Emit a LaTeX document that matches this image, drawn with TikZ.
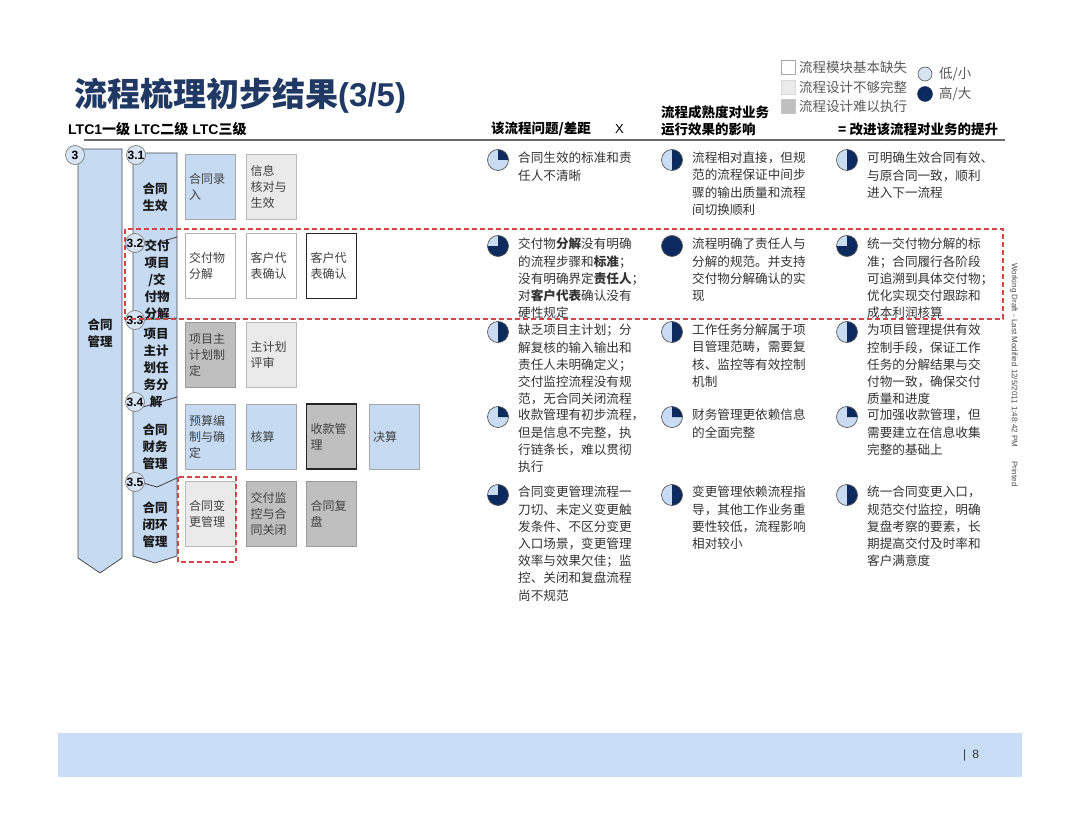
\documentclass[tikz,border=0pt]{standalone}
\usepackage{fontspec}
\setmainfont{Noto Sans CJK SC}
\newfontfamily\arial{Liberation Sans}
\definecolor{navy}{HTML}{1F3864}
\definecolor{piedark}{HTML}{0C2A5E}
\definecolor{pielight}{HTML}{C9DCF3}
\definecolor{colblue}{HTML}{C6DAF2}
\definecolor{boxblue}{HTML}{C6DAF2}
\definecolor{boxlgray}{HTML}{EAEAEA}
\definecolor{boxmgray}{HTML}{BFBFBF}
\definecolor{dashred}{HTML}{D64545}
\definecolor{footblue}{HTML}{C9DDF6}
\definecolor{txtgray}{HTML}{404040}
\definecolor{circfill}{HTML}{D6E4F4}
\begin{document}
\begin{tikzpicture}[x=1pt,y=-1pt,
  procbox/.style={minimum width=50pt, minimum height=65pt, inner sep=4pt, text width=42pt,
    align=left, font=\fontsize{12}{16}\selectfont, text=txtgray, line width=0.8pt},
  bbox/.style={procbox, fill=boxblue, draw=gray!70},
  lbox/.style={procbox, fill=boxlgray, draw=gray!55},
  wbox/.style={procbox, fill=white, draw=gray!60},
  mbox/.style={procbox, fill=boxmgray, draw=gray!80},
  strongbox/.style={draw=black!85, line width=1.1pt},
  colshape/.style={fill=colblue, draw=black!70, line width=0.8pt},
  sepline/.style={draw=black!75, line width=0.8pt},
  numcirc/.style={circle, fill=circfill, draw=gray, line width=0.7pt, minimum size=19pt, inner sep=0pt,
    font=\arial\bfseries\fontsize{12}{12}\selectfont},
  lvlabel/.style={align=center, font=\bfseries\fontsize{12.5}{17}\selectfont, text=black!90, inner sep=0pt},
  desc/.style={anchor=north west, align=left, inner sep=0pt, font=\fontsize{12.6}{17.2}\selectfont, text=black!80},
  hdr/.style={anchor=west, inner sep=0pt, font=\bfseries\fontsize{13.5}{16}\selectfont, text=black},
  legtxt/.style={anchor=west, inner sep=0pt, font=\fontsize{13.5}{15}\selectfont, text=black!65},
  reddash/.style={draw=dashred, line width=1.6pt, dash pattern=on 5pt off 3pt},
  pieedge/.style={draw=gray!70!black, line width=0.7pt},
  pq/.pic={\fill[pielight] (0,0) circle[radius=10.5pt];
    \fill[piedark] (0,0) -- (90:10.5pt) arc[start angle=90,end angle=0,radius=10.5pt] -- cycle;
    \draw[pieedge] (0,0) circle[radius=10.5pt];},
  ph/.pic={\fill[pielight] (0,0) circle[radius=10.5pt];
    \fill[piedark] (0,0) -- (90:10.5pt) arc[start angle=90,end angle=-90,radius=10.5pt] -- cycle;
    \draw[pieedge] (0,0) circle[radius=10.5pt];},
  ptq/.pic={\fill[pielight] (0,0) circle[radius=10.5pt];
    \fill[piedark] (0,0) -- (90:10.5pt) arc[start angle=90,end angle=-180,radius=10.5pt] -- cycle;
    \draw[pieedge] (0,0) circle[radius=10.5pt];},
  pf/.pic={\fill[piedark] (0,0) circle[radius=10.5pt];
    \draw[pieedge] (0,0) circle[radius=10.5pt];}
]
\useasboundingbox[fill=white] (0,0) rectangle (1080,832);

% title
\node[anchor=west, inner sep=0pt, text=navy, font=\bfseries\fontsize{33}{35}\selectfont] (title) at (74,96)
  {流程梳理初步结果{\arial\bfseries (3/5)}};

% legend
\draw[gray!70, fill=white, line width=0.6pt] (781,60) rectangle (795,74);
\draw[gray!30, fill=boxlgray, line width=0.6pt] (781,80) rectangle (795,94);
\draw[gray!45, fill=boxmgray, line width=0.6pt] (781,99) rectangle (795,113);
\node[legtxt] (lg1) at (799,67) {流程模块基本缺失};
\node[legtxt] (lg2) at (799,87) {流程设计不够完整};
\node[legtxt] (lg3) at (799,106) {流程设计难以执行};
\draw[fill=circfill, draw=black!60, line width=0.7pt] (925,74) circle[radius=7pt];
\draw[fill=piedark, draw=piedark] (925,94) circle[radius=7.5pt];
\node[legtxt] (lg4) at (939,74) {低/小};
\node[legtxt] (lg5) at (939,94) {高/大};

% headers
\node[hdr, font=\bfseries\fontsize{14}{16}\selectfont] (h0) at (68,129)
  {{\arial\bfseries LTC1}一级\hspace{4pt}{\arial\bfseries LTC}二级\hspace{4pt}{\arial\bfseries LTC}三级};
\node[hdr] (h1) at (491,129) {该流程问题/差距};
\node[hdr, font=\arial\fontsize{13}{14}\selectfont] (hx) at (615,129) {X};
\node[hdr] (h2a) at (661,112) {流程成熟度对业务};
\node[hdr] (h2b) at (661,129) {运行效果的影响};
\node[hdr] (h3) at (838,129) {= 改进该流程对业务的提升};
\draw[gray!85!black, line width=2.6pt] (84,140) -- (1005,140);

% level 1 column
\draw[colshape] (78,149) -- (122,149) -- (122,558) -- (100,573) -- (78,558) -- cycle;
% level 2 column
\draw[colshape] (133,153) -- (177,153) -- (177,556) -- (155,563) -- (133,556) -- cycle;
\draw[sepline] (177,237) -- (160,242);
\draw[sepline] (140,320) -- (177,318);
\draw[sepline] (143,407) -- (177,397);
\draw[sepline] (143,483) -- (157,487) -- (177,478);

% level labels
\node[lvlabel] (l1) at (100,333.5) {合同\\管理};
\node[lvlabel] (l31) at (155,197.5) {合同\\生效};
\node[lvlabel] (l32) at (157,280) {交付\\项目\\/交\\付物\\分解};
\node[lvlabel] (l33) at (156,368) {项目\\主计\\划任\\务分\\解};
\node[lvlabel] (l34) at (155,447) {合同\\财务\\管理};
\node[lvlabel] (l35) at (155,525) {合同\\闭环\\管理};

% number circles
\node[numcirc] (c3) at (75,155) {3};
\node[numcirc] (c31) at (136,155) {3.1};
\node[numcirc] (c32) at (135,243) {3.2};
\node[numcirc] (c33) at (135,320) {3.3};
\node[numcirc] (c34) at (135,402) {3.4};
\node[numcirc] (c35) at (135,482) {3.5};

% level 3 boxes
\node[bbox] (b11) at (210,187) {合同录\\入};
\node[lbox] (b12) at (271.5,187) {信息\\核对与\\生效};
\node[wbox] (b21) at (210,266) {交付物\\分解};
\node[wbox] (b22) at (271.5,266) {客户代\\表确认};
\node[wbox, strongbox] (b23) at (331.5,266) {客户代\\表确认};
\node[mbox] (b31) at (210,354.5) {项目主\\计划制\\定};
\node[lbox] (b32) at (271.5,354.5) {主计划\\评审};
\node[bbox] (b41) at (210,436.5) {预算编\\制与确\\定};
\node[bbox] (b42) at (271.5,436.5) {核算};
\node[mbox, strongbox] (b43) at (331.5,436.5) {收款管\\理};
\node[bbox] (b44) at (394,436.5) {决算};
\node[lbox] (b51) at (210,513.5) {合同变\\更管理};
\node[mbox] (b52) at (271.5,513.5) {交付监\\控与合\\同关闭};
\node[mbox] (b53) at (331.5,513.5) {合同复\\盘};

% pies
\pic at (498,160) {pq};
\pic at (672,160) {ph};
\pic at (847,160) {ph};
\pic at (498,246) {ptq};
\pic at (672,246) {pf};
\pic at (847,246) {ptq};
\pic at (498,332) {ph};
\pic at (672,332) {ph};
\pic at (847,332) {ph};
\pic at (498,417) {pq};
\pic at (672,417) {pq};
\pic at (847,417) {pq};
\pic at (498,495) {ptq};
\pic at (672,495) {ph};
\pic at (847,495) {ph};

% descriptions
\node[desc] (t11) at (518,152) {合同生效的标准和责\\任人不清晰};
\node[desc] (t12) at (692,152) {流程相对直接，但规\\范的流程保证中间步\\骤的输出质量和流程\\间切换顺利};
\node[desc] (t13) at (867,152) {可明确生效合同有效、\\与原合同一致，顺利\\进入下一流程};
\node[desc] (t21) at (518,238) {交付物\textbf{分解}没有明确\\的流程步骤和\textbf{标准}；\\没有明确界定\textbf{责任人}；\\对\textbf{客户代表}确认没有\\硬性规定};
\node[desc] (t22) at (692,238) {流程明确了责任人与\\分解的规范。并支持\\交付物分解确认的实\\现};
\node[desc] (t23) at (867,238) {统一交付物分解的标\\准；合同履行各阶段\\可追溯到具体交付物；\\优化实现交付跟踪和\\成本利润核算};
\node[desc] (t31) at (518,324) {缺乏项目主计划；分\\解复核的输入输出和\\责任人未明确定义；\\交付监控流程没有规\\范，无合同关闭流程};
\node[desc] (t32) at (692,324) {工作任务分解属于项\\目管理范畴，需要复\\核、监控等有效控制\\机制};
\node[desc] (t33) at (867,324) {为项目管理提供有效\\控制手段，保证工作\\任务的分解结果与交\\付物一致，确保交付\\质量和进度};
\node[desc] (t41) at (518,409) {收款管理有初步流程，\\但是信息不完整，执\\行链条长，难以贯彻\\执行};
\node[desc] (t42) at (692,409) {财务管理更依赖信息\\的全面完整};
\node[desc] (t43) at (867,409) {可加强收款管理，但\\需要建立在信息收集\\完整的基础上};
\node[desc] (t51) at (518,486) {合同变更管理流程一\\刀切、未定义变更触\\发条件、不区分变更\\入口场景，变更管理\\效率与效果欠佳；监\\控、关闭和复盘流程\\尚不规范};
\node[desc] (t52) at (692,486) {变更管理依赖流程指\\导，其他工作业务重\\要性较低，流程影响\\相对较小};
\node[desc] (t53) at (867,486) {统一合同变更入口，\\规范交付监控，明确\\复盘考察的要素，长\\期提高交付及时率和\\客户满意度};

% red dashed highlights
\draw[reddash] (125,229) rectangle (1003,319);
\draw[reddash] (178,477) rectangle (236,562);

% side note
\node[rotate=-90, inner sep=0pt, text=black!70, font=\arial\fontsize{8}{9}\selectfont] (side) at (1014,375)
  {Working Draft - Last Modified 12/5/2011 1:48:42 PM\hspace{14pt}Printed};

% footer
\fill[footblue] (58,733) rectangle (1022,777);
\node[anchor=west, inner sep=0pt, text=black!80, font=\arial\fontsize{12}{14}\selectfont] (pg) at (963,755) {|\hspace{6pt}8};
\end{tikzpicture}
\end{document}
